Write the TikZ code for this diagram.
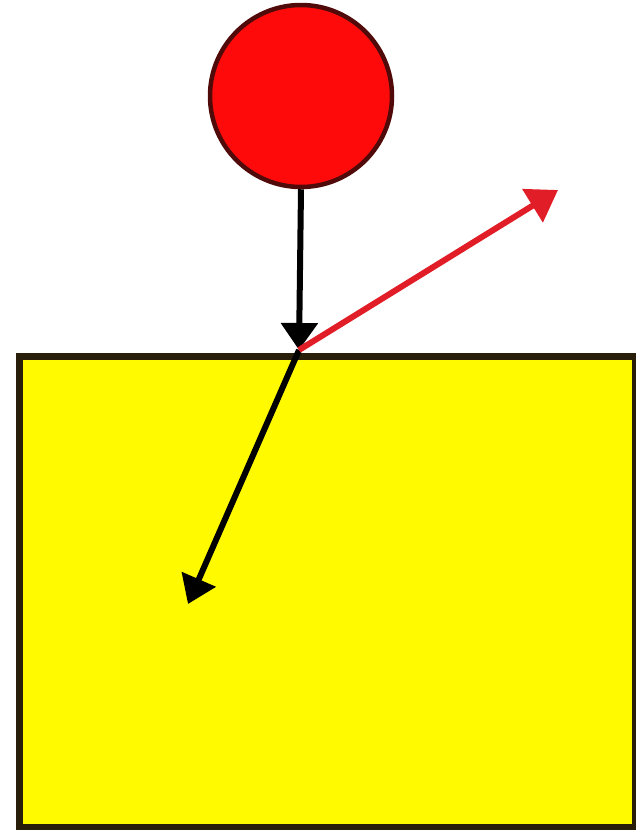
\documentclass[tikz,border=0pt]{standalone}
\usetikzlibrary{arrows.meta}
\definecolor{rimdark}{RGB}{40,30,10}
\definecolor{ballred}{RGB}{255,10,10}
\definecolor{ballrim}{RGB}{80,10,10}
\definecolor{plate}{RGB}{255,250,0}
\definecolor{rayred}{RGB}{225,30,40}
\tikzset{
  ray/.style={line width=6pt, -{Triangle[length=27pt,width=36pt]}},
}
\begin{document}
\begin{tikzpicture}[x=1pt,y=-1pt]
\useasboundingbox (0,0) rectangle (636,830);
\node[draw=ballrim, fill=ballred, line width=4.5pt, circle, minimum size=182pt, inner sep=0pt] (ball) at (301,96) {};
\node[draw=rimdark, fill=plate, line width=7pt, rectangle, minimum width=616pt, minimum height=471pt, inner sep=0pt, anchor=north west] (block) at (16,353) {};
\coordinate (hit) at (299,350);
\coordinate (refr) at (188,604);
\coordinate (refl) at (558,190);
\draw[ray] (ball.south) -- (hit);
\draw[ray] (hit) -- (refr);
\draw[ray, draw=rayred, -{Triangle[length=30pt,width=38pt]}] (hit) -- (refl);
\end{tikzpicture}
\end{document}
